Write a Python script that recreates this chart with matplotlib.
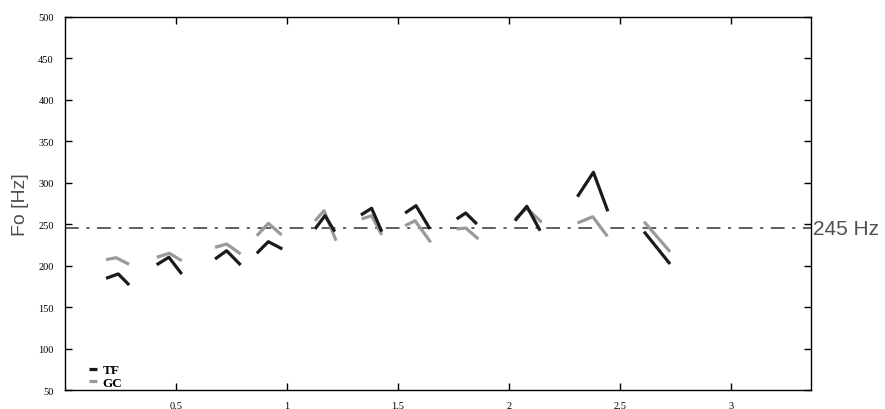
import matplotlib
matplotlib.use("Agg")
import matplotlib.pyplot as plt
import numpy as np

# Fo contours per syllable (time in s, Fo in Hz)
tf_time = [
    [0.185, 0.240, 0.289], [0.413, 0.468, 0.526], [0.676, 0.728, 0.791],
    [0.864, 0.916, 0.979], [1.126, 1.171, 1.215], [1.333, 1.381, 1.427],
    [1.532, 1.581, 1.644], [1.764, 1.805, 1.855], [2.027, 2.080, 2.140],
    [2.308, 2.380, 2.445], [2.608, 2.725],
]
tf_f0 = [
    [184.7, 190.0, 176.7], [201.1, 210.1, 189.9], [208.0, 218.0, 200.8],
    [214.9, 228.9, 220.1], [244.2, 260.3, 241.0], [261.1, 269.2, 241.0],
    [263.5, 272.3, 244.2], [256.3, 263.5, 250.2], [254.2, 271.6, 242.2],
    [283.2, 312.6, 265.6], [241.0, 202.0],
]
gc_time = [
    [0.185, 0.230, 0.289], [0.413, 0.470, 0.526], [0.676, 0.728, 0.791],
    [0.864, 0.916, 0.976], [1.126, 1.167, 1.221], [1.336, 1.381, 1.427],
    [1.532, 1.577, 1.647], [1.764, 1.805, 1.862], [2.027, 2.080, 2.147],
    [2.308, 2.377, 2.443], [2.608, 2.725],
]
gc_f0 = [
    [207.2, 209.6, 201.6], [210.1, 214.9, 206.0], [222.1, 226.1, 214.1],
    [236.1, 251.1, 237.0], [253.9, 266.3, 230.1], [256.3, 260.3, 237.0],
    [248.2, 254.2, 228.2], [244.2, 245.4, 232.1], [256.3, 269.2, 252.3],
    [251.4, 259.0, 235.4], [253.0, 216.8],
]
ref_f0 = 245

fig = plt.figure(figsize=(8.85, 4.10), dpi=100)
ax = fig.add_axes([0.0734, 0.0463, 0.843, 0.910])

for i, (t, f) in enumerate(zip(gc_time, gc_f0)):
    ax.plot(t, f, color="#9a9a9a", lw=2.3, solid_capstyle="butt",
            label="GC" if i == 0 else None, zorder=2)
for i, (t, f) in enumerate(zip(tf_time, tf_f0)):
    ax.plot(t, f, color="#1a1a1a", lw=2.3, solid_capstyle="butt",
            label="TF" if i == 0 else None, zorder=3)

ax.axhline(ref_f0, color="#333333", lw=1.1, linestyle=(0, (9, 5, 2, 5)), zorder=1)
ax.text(1.003, ref_f0, "245 Hz", transform=ax.get_yaxis_transform(),
        va="center", ha="left", fontsize=15, color="#505050",
        family="Liberation Sans")

ax.set_xlim(0, 3.36)
ax.set_ylim(50, 500)
ax.set_xticks(np.arange(0.5, 3.01, 0.5))
ax.set_xticklabels(["0.5", "1", "1.5", "2", "2.5", "3"])
ax.set_yticks(np.arange(50, 501, 50))
ax.tick_params(direction="in", length=5, width=1, top=True, right=True,
               labelsize=7.5, pad=8)
for lab in ax.get_xticklabels() + ax.get_yticklabels():
    lab.set_family("Liberation Serif")
for s in ax.spines.values():
    s.set_linewidth(1)

ax.set_ylabel("Fo [Hz]", fontsize=14, color="#505050",
              family="Liberation Sans", labelpad=7)

h, l = ax.get_legend_handles_labels()
order = [l.index("TF"), l.index("GC")]
leg = ax.legend([h[k] for k in order], [l[k] for k in order], loc="lower left",
                bbox_to_anchor=(0.03, 0.0), frameon=False, borderpad=0.1,
                borderaxespad=0, handlelength=0.65, handletextpad=0.4,
                labelspacing=0.0,
                prop={"family": "Liberation Serif", "size": 9.5, "weight": "bold"})

fig.savefig("out.png", dpi=100)
